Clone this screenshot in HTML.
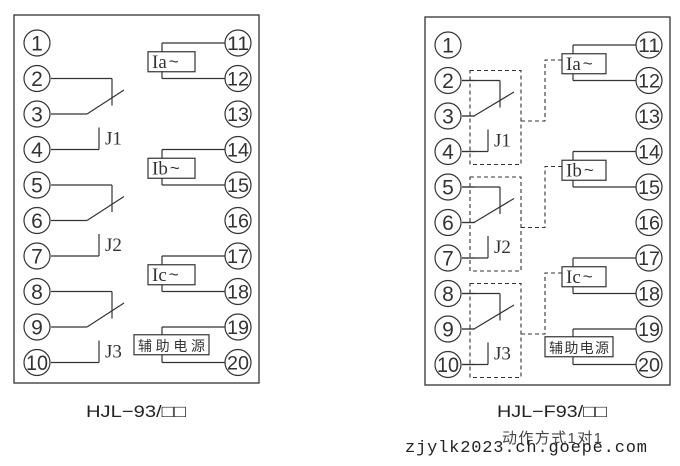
<!DOCTYPE html>
<html><head><meta charset="utf-8"><style>
html,body{margin:0;padding:0;background:#fff;width:680px;height:466px;overflow:hidden}
</style></head><body>
<svg id="s" width="680" height="466" xmlns="http://www.w3.org/2000/svg" font-family="'Liberation Serif',serif"></svg>
<script>
const s=document.getElementById('s');
let h='';
const L=(x1,y1,x2,y2,ex='')=>h+=`<line x1="${x1}" y1="${y1}" x2="${x2}" y2="${y2}" stroke="#333" stroke-width="1.2" ${ex}/>`;
const D='stroke-dasharray="4,3"';
function diagram(dx,dy,dashed){
  const row=i=>dy+43+35.5*i;
  h+=`<rect x="${dx+14}" y="${dy+15}" width="245" height="368" fill="none" stroke="#333" stroke-width="1.3"/>`;
  for(let i=0;i<10;i++){
    const y=row(i);
    h+=`<circle cx="${dx+37}" cy="${y}" r="13" fill="#fff" stroke="#333" stroke-width="1.2"/>`;
    h+=`<text x="${dx+37}" y="${y+7.5}" font-family="'Liberation Sans',sans-serif" font-size="21" text-anchor="middle" fill="#333" ${i==9?'textLength="22" lengthAdjust="spacingAndGlyphs"':''}>${i+1}</text>`;
    const n=i+11;
    h+=`<circle cx="${dx+238}" cy="${y}" r="13" fill="#fff" stroke="#333" stroke-width="1.2"/>`;
    h+=`<text x="${dx+238}" y="${y+7}" font-family="'Liberation Sans',sans-serif" font-size="19" text-anchor="middle" fill="#333" textLength="22" lengthAdjust="spacingAndGlyphs">${n}</text>`;
  }
  for(let g=0;g<3;g++){
    const a=row(1+3*g),b=row(2+3*g),c=row(3+3*g);
    const cx=dashed?dx+89:dx+112, sx=dashed?dx+63:dx+87, ex=dashed?dx+103:dx+124, jx=dashed?dx+77:dx+99;
    L(dx+51,a,cx,a);L(cx,a,cx,a+27);
    L(dx+51,b,sx,b);L(sx,b,ex,b-24);
    L(jx,c-22,jx,c);L(dx+51,c,jx,c);
    h+=`<text x="${jx+6}" y="${c-5}" font-size="19" fill="#333">J${g+1}</text>`;
    if(dashed){
      h+=`<rect x="${dx+59}" y="${a-10}" width="51" height="${c-a+23}" fill="none" stroke="#333" stroke-width="1.1" ${D}/>`;
      h+=`<path d="M${dx+110} ${b+5} H${dx+134} V${row(3*g)+15} H${dx+151}" fill="none" stroke="#333" stroke-width="1.1" ${D}/>`;
      L(dx+51,a,dx+64,a,'stroke-width="2.5"');L(dx+51,b,dx+64,b,'stroke-width="2.5"');L(dx+51,c,dx+64,c,'stroke-width="2.5"');
    }
  }
  const labs=['Ia','Ib','Ic'];
  for(let g=0;g<3;g++){
    const t=row(3*g),u=row(3*g+1),m=(t+u)/2;
    const bx=dashed?dx+151:dx+148;
    L(dx+162,t,dx+225,t);L(dx+162,t,dx+162,m-9);
    L(dx+162,m+10,dx+162,u);L(dx+162,u,dx+225,u);
    h+=`<rect x="${bx}" y="${m-9}" width="${dx+195-bx}" height="20" fill="#fff" stroke="#333" stroke-width="1.2"/>`;
    h+=`<text x="${bx+4}" y="${m+7}" font-size="19" fill="#333">${labs[g]}<tspan dx="2" font-family="'Liberation Sans',sans-serif" font-size="17" dy="-1">~</tspan></text>`;
  }
  const t=row(8),u=row(9),m=(t+u)/2;
  L(dx+162,t,dx+225,t);L(dx+162,t,dx+162,m-9);L(dx+162,m+10,dx+162,u);L(dx+162,u,dx+225,u);
  const ax=dx+134, aw=dashed?68:75;
  h+=`<rect x="${ax}" y="${m-10}" width="${aw}" height="20" fill="#fff" stroke="#333" stroke-width="1.2"/>`;
  h+=`<text x="${ax+4}" y="${m+6}" font-family="'Noto Sans CJK SC',sans-serif" font-size="14" fill="#333" textLength="${aw-8}">辅助电源</text>`;
}
diagram(0,0,false);
diagram(411,2,true);
h+=`<text x="86" y="417" font-family="'Liberation Sans','Noto Sans CJK SC',sans-serif" font-size="17" fill="#222" textLength="100" lengthAdjust="spacingAndGlyphs">HJL−93/□□</text>`;
h+=`<text x="497" y="417" font-family="'Liberation Sans','Noto Sans CJK SC',sans-serif" font-size="17" fill="#222" textLength="110" lengthAdjust="spacingAndGlyphs">HJL−F93/□□</text>`;
h+=`<text x="502" y="443" font-family="'Liberation Sans','Noto Sans CJK SC',sans-serif" font-size="15" fill="#444" textLength="100">动作方式1对1</text>`;
h+=`<text x="405" y="452" font-family="'Liberation Mono',monospace" font-size="17" fill="#222" textLength="242">zjylk2023.ch.goepe.com</text>`;
s.innerHTML=h;
</script>
</body></html>
